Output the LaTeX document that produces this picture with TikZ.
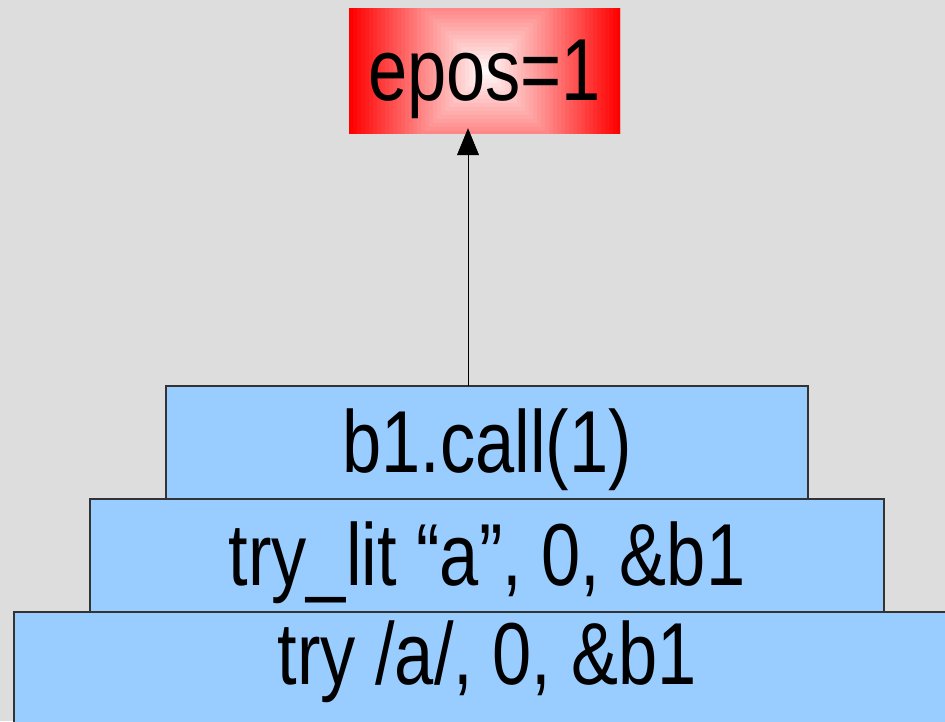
\documentclass[tikz,border=0pt]{standalone}
\usepackage{fontspec}
\newfontfamily\slidefont[FakeStretch=0.8]{Liberation Sans}
\usetikzlibrary{arrows.meta,calc,positioning}
\definecolor{slidebg}{HTML}{DDDDDD}
\definecolor{frameblue}{HTML}{99CCFF}
\definecolor{edgegrey}{HTML}{333333}
\definecolor{hotred}{HTML}{FF0000}
\tikzset{>=Triangle,
  every node/.style={font=\slidefont\fontsize{88}{94}\selectfont,inner sep=0pt},
  stackbox/.style={draw=edgegrey,line width=1.2pt,fill=frameblue,
    minimum height=113pt,text height=70pt,text depth=11pt},
  % square gradient: white centre, full red at the side edges
  errbox/.style={minimum width=271pt,minimum height=125pt,
    text height=70pt,text depth=11pt,
    path picture={
      \foreach \s in {140,136,...,0}{
        \pgfmathsetmacro{\p}{min(100,\s/1.36)}
        \fill[hotred!\p!white]
          ($(path picture bounding box.center)+(-\s pt,-\s pt)$) rectangle
          ($(path picture bounding box.center)+(\s pt,\s pt)$);
      }}},
  link/.style={->,draw=black,line width=.8pt}}

\begin{document}
\begin{tikzpicture}[x=1pt,y=-1pt]
\fill[slidebg] (0,0) rectangle (945,721);
\useasboundingbox (0,0) rectangle (945,721);
% machine stack, bottom frame runs off the page
\node[stackbox,minimum width=946pt,text height=45pt,text depth=14pt] (tryre) at (487,668.5) {try /a/, 0, \&b1};
\node[stackbox,minimum width=794pt] (trylit) at (487,555.5) {try\_lit “a”, 0, \&b1};
\node[stackbox,minimum width=642pt] (call) at (487,442.5) {b1.call(1)};
\node[errbox] (epos) at (484.5,70.5) {epos=1};
\coordinate (tail) at (468,386);
\draw[link,-{Triangle[length=27pt,width=22pt]}] (tail) -- ($(tail |- epos.south)+(0,-5)$);
\end{tikzpicture}
\end{document}
